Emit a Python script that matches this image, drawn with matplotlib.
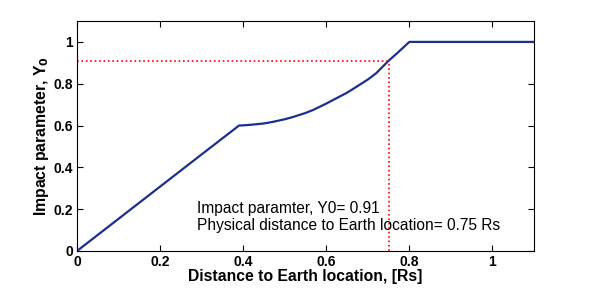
import matplotlib
matplotlib.use("Agg")
import matplotlib.pyplot as plt

# curve
dist = [0.0, 0.1, 0.2, 0.3, 0.39, 0.4, 0.42, 0.45, 0.47, 0.5, 0.52, 0.55, 0.57,
        0.6, 0.62, 0.65, 0.67, 0.7, 0.72, 0.75, 0.77, 0.8, 1.1]
y0 = [0.0, 0.154, 0.308, 0.462, 0.6, 0.601, 0.604, 0.61, 0.617, 0.63, 0.641, 0.66,
      0.676, 0.705, 0.726, 0.757, 0.782, 0.82, 0.85, 0.91, 0.945, 1.0, 1.0]

hit_x = 0.75
hit_y = 0.91

plt.rcParams["font.family"] = ["Liberation Sans", "DejaVu Sans"]

fig = plt.figure(figsize=(5.9, 2.96), dpi=100)
ax = fig.add_axes([77 / 590, 45 / 296, 457 / 590, 230 / 296])

ax.plot(dist, y0, color="#1c2f8e", lw=1.6)
ax.plot([0, hit_x], [hit_y, hit_y], color="red", ls=":", lw=1.2)
ax.plot([hit_x, hit_x], [0, hit_y], color="red", ls=":", lw=1.2)

ax.text(0.29, 0.205, f"Impact paramter, Y0= {hit_y:.2f}", fontsize=11.2, va="center")
ax.text(0.29, 0.12, f"Physical distance to Earth location= {hit_x:.2f} Rs",
        fontsize=11.2, va="center")

ax.set_xlim(0, 1.1)
ax.set_ylim(0, 1.1)
ax.set_xticks([0, 0.2, 0.4, 0.6, 0.8, 1])
ax.set_xticklabels(["0", "0.2", "0.4", "0.6", "0.8", "1"])
ax.set_yticks([0, 0.2, 0.4, 0.6, 0.8, 1])
ax.set_yticklabels(["0", "0.2", "0.4", "0.6", "0.8", "1"])
ax.tick_params(direction="in", top=True, right=True, length=4, labelsize=10, pad=3)
for lab in ax.get_xticklabels() + ax.get_yticklabels():
    lab.set_fontweight("bold")
for s in ax.spines.values():
    s.set_linewidth(0.8)

ax.set_xlabel("Distance to Earth location, [Rs]", fontsize=11.3, fontweight="bold", labelpad=0)
ax.set_ylabel(r"Impact parameter, Y$_\mathbf{0}$", fontsize=11.3, fontweight="bold", labelpad=2)

fig.savefig("out.png", dpi=100)
plt.close(fig)
